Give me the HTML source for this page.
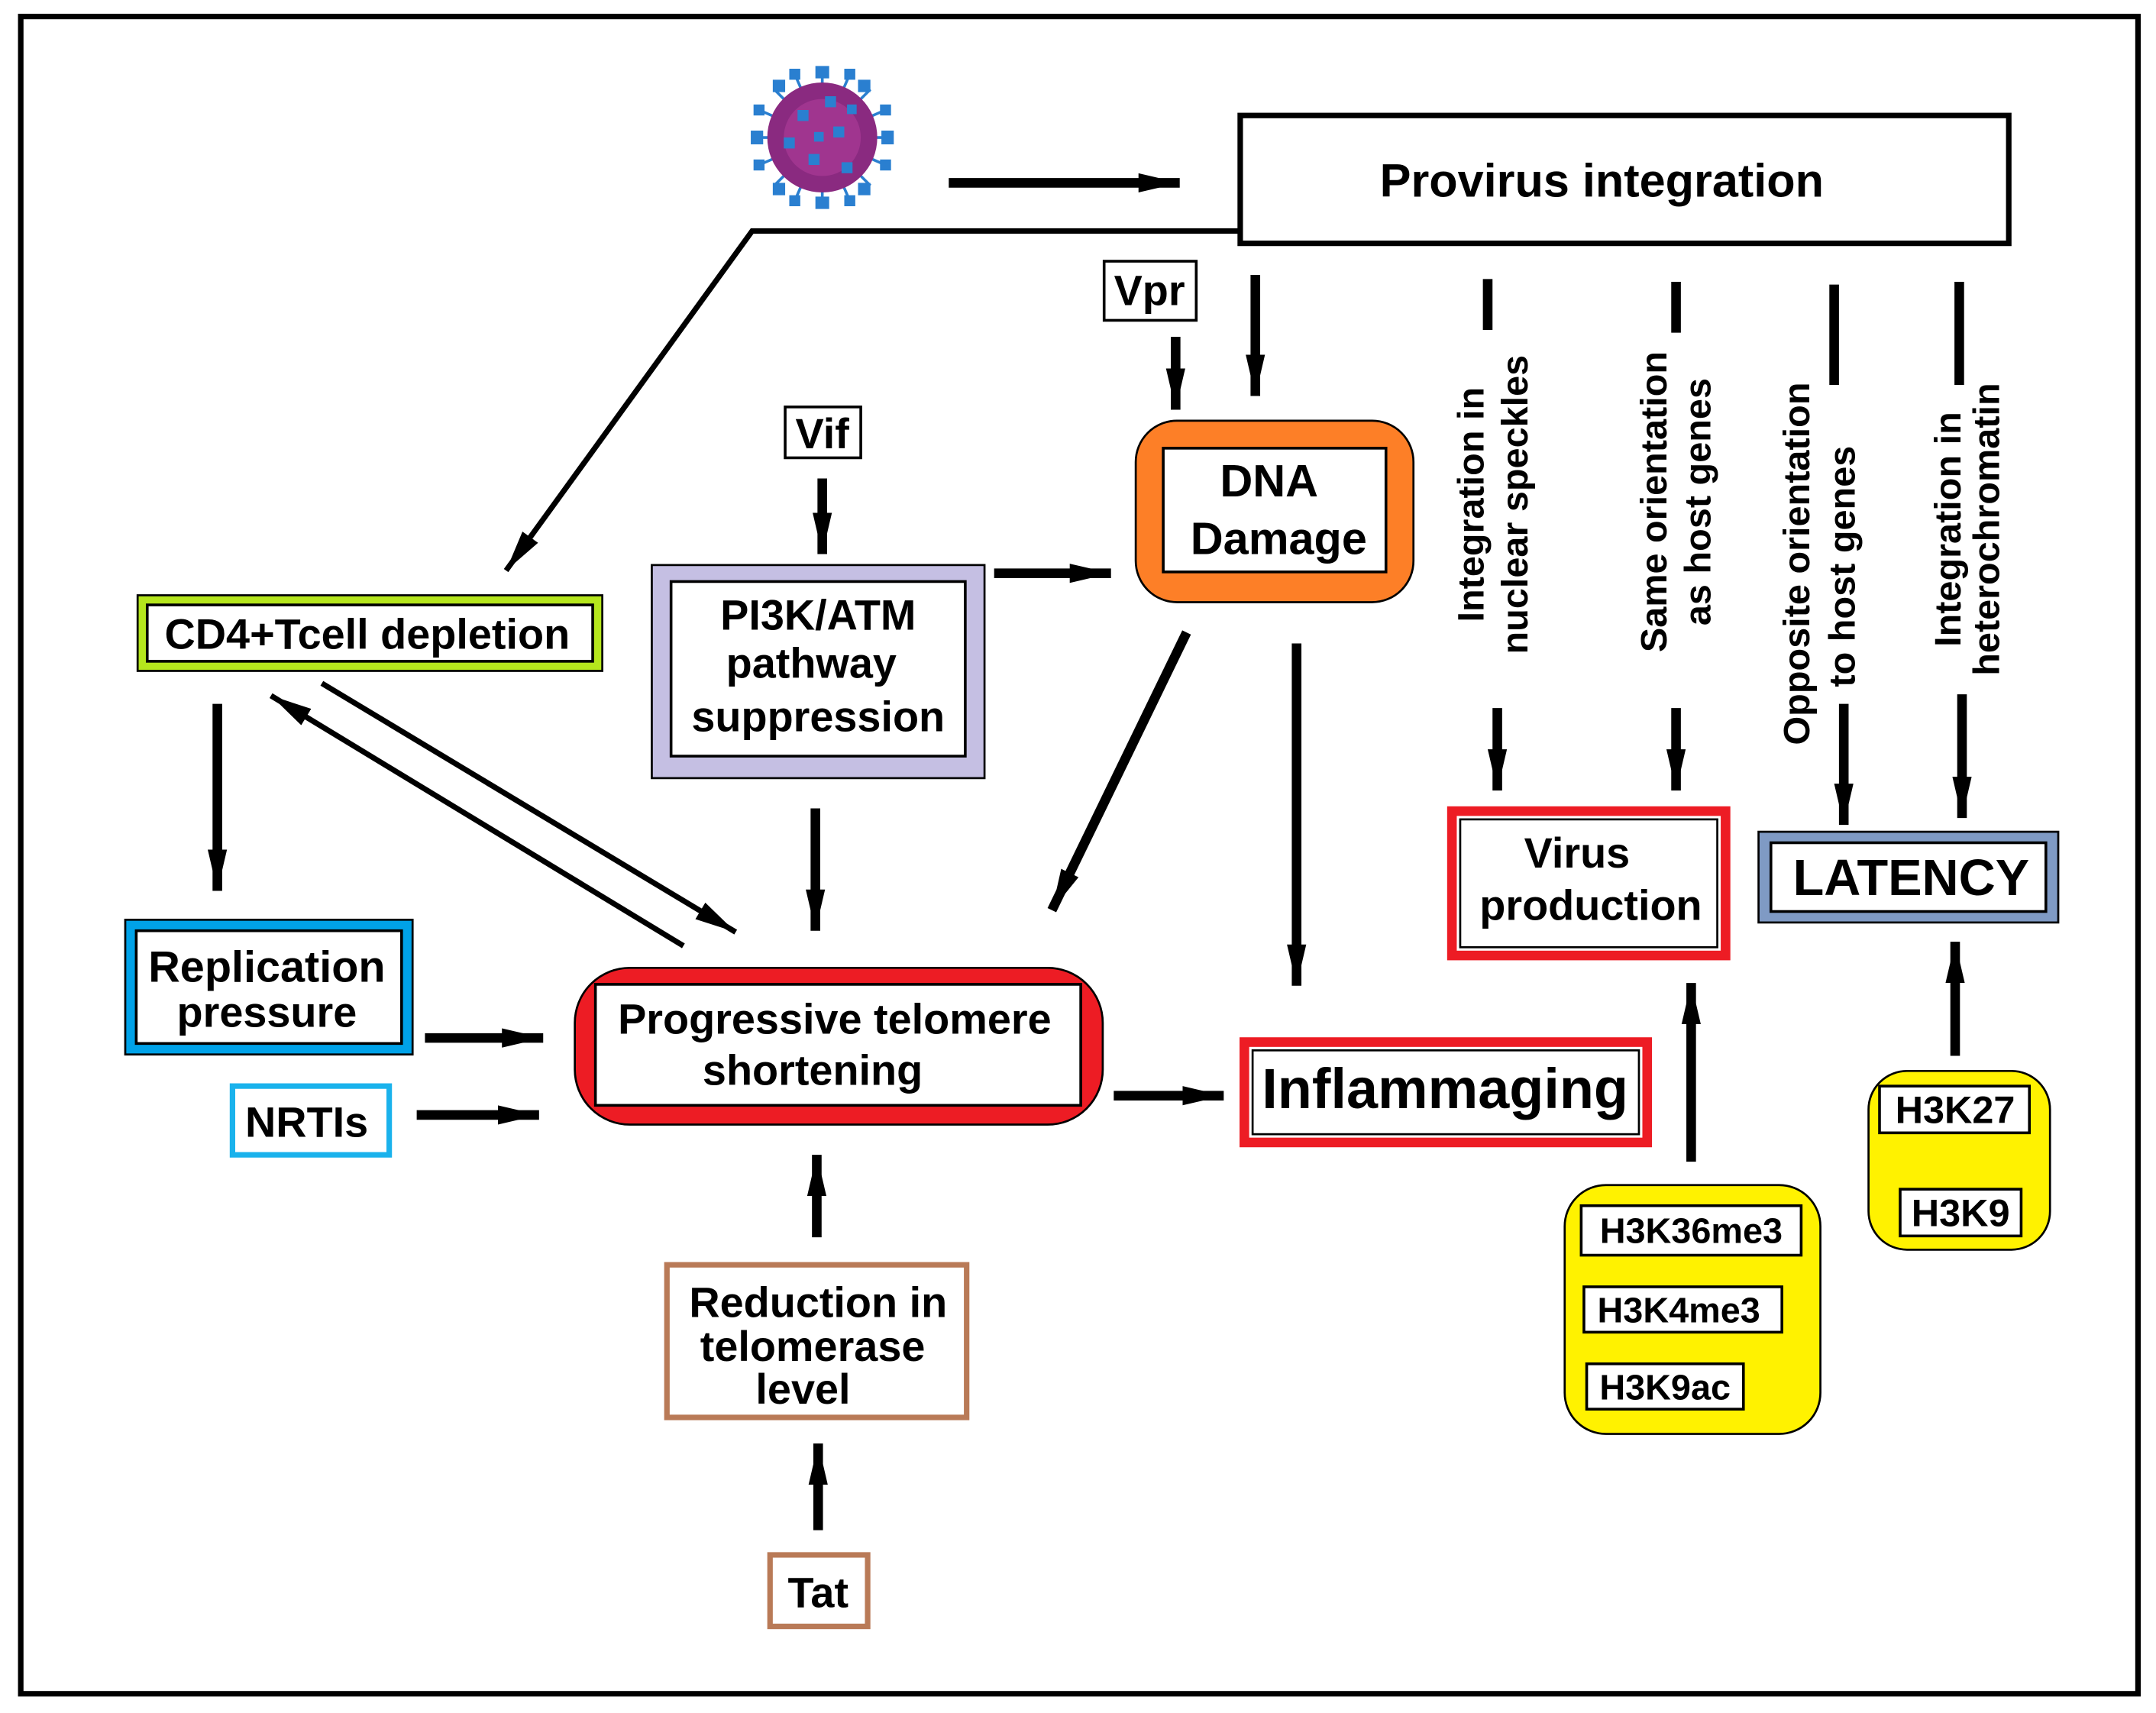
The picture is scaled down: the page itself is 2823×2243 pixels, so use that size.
<!DOCTYPE html>
<html><head><meta charset="utf-8"><style>html,body{margin:0;padding:0;background:#fff}svg{display:block}text{font-family:"Liberation Sans",Arial,sans-serif;font-weight:bold;fill:#000}</style></head>
<body>
<svg width="2823" height="2243" viewBox="0 0 1568 1246" xmlns="http://www.w3.org/2000/svg">
<defs>
<marker id="a" markerUnits="userSpaceOnUse" markerWidth="34" markerHeight="20" viewBox="0 -10 34 20" refX="30" refY="0" orient="auto"><path d="M0,-7 L30,0 L0,7 z" fill="#000"/></marker>
</defs>
<rect x="0" y="0" width="1568" height="1246" fill="#fff"/>
<rect x="15" y="12" width="1540" height="1220" fill="none" stroke="#000" stroke-width="4"/>
<g transform="translate(598,100)">
<g stroke="#2a7fd0" stroke-width="2">
<line x1="0" y1="-50" x2="0" y2="50"/><line x1="-50" y1="0" x2="50" y2="0"/>
<line x1="-35" y1="-35" x2="35" y2="35"/><line x1="35" y1="-35" x2="-35" y2="35"/>
<line x1="-46" y1="-20" x2="46" y2="20"/><line x1="46" y1="-20" x2="-46" y2="20"/>
<line x1="-20" y1="-46" x2="20" y2="46"/><line x1="20" y1="-46" x2="-20" y2="46"/>
</g>
<circle r="40" fill="#8a2a80"/>
<circle r="28" fill="#a0358f"/>
<g fill="#2a7fd0">
<rect x="-5" y="-52" width="10" height="9"/><rect x="-5" y="43" width="10" height="9"/>
<rect x="-52" y="-5" width="9" height="10"/><rect x="43" y="-5" width="9" height="10"/>
<rect x="26" y="-42" width="9" height="9"/><rect x="-36" y="-42" width="9" height="9"/>
<rect x="26" y="33" width="9" height="9"/><rect x="-36" y="33" width="9" height="9"/>
<rect x="-50" y="-24" width="8" height="8"/><rect x="42" y="-24" width="8" height="8"/>
<rect x="-50" y="16" width="8" height="8"/><rect x="42" y="16" width="8" height="8"/>
<rect x="-24" y="-50" width="8" height="8"/><rect x="16" y="-50" width="8" height="8"/>
<rect x="-24" y="42" width="8" height="8"/><rect x="16" y="42" width="8" height="8"/>
<rect x="-18" y="-20" width="8" height="8"/><rect x="8" y="-8" width="8" height="8"/>
<rect x="-10" y="12" width="8" height="8"/><rect x="14" y="18" width="8" height="8"/>
<rect x="-28" y="0" width="8" height="8"/><rect x="2" y="-30" width="8" height="8"/>
<rect x="-6" y="-4" width="7" height="7"/><rect x="18" y="-24" width="7" height="7"/>
</g></g>
<g stroke="#000" stroke-width="7" fill="none" marker-end="url(#a)">
<line x1="690" y1="133" x2="858" y2="133"/>
<line x1="855" y1="245" x2="855" y2="298"/>
<line x1="913" y1="200" x2="913" y2="288"/>
<line x1="1089" y1="515" x2="1089" y2="575"/>
<line x1="1219" y1="515" x2="1219" y2="575"/>
<line x1="1341" y1="512" x2="1341" y2="600"/>
<line x1="1427" y1="505" x2="1427" y2="595"/>
<line x1="598" y1="348" x2="598" y2="403"/>
<line x1="723" y1="417" x2="808" y2="417"/>
<line x1="158" y1="512" x2="158" y2="648"/>
<line x1="309" y1="755" x2="395" y2="755"/>
<line x1="303" y1="811" x2="392" y2="811"/>
<line x1="593" y1="588" x2="593" y2="677"/>
<line x1="863" y1="460" x2="765" y2="662"/>
<line x1="943" y1="468" x2="943" y2="717"/>
<line x1="810" y1="797" x2="890" y2="797"/>
<line x1="1230" y1="845" x2="1230" y2="715"/>
<line x1="1422" y1="768" x2="1422" y2="685"/>
<line x1="594" y1="900" x2="594" y2="840"/>
<line x1="595" y1="1113" x2="595" y2="1050"/>
</g>
<g stroke="#000" stroke-width="4" fill="none" marker-end="url(#a)">
<polyline points="902,168 547,168 368,415"/>
<line x1="234" y1="497" x2="535" y2="678"/>
<line x1="497" y1="688" x2="197" y2="506"/>
</g>
<g stroke="#000" stroke-width="7">
<line x1="1082" y1="203" x2="1082" y2="240"/>
<line x1="1219" y1="205" x2="1219" y2="242"/>
<line x1="1334" y1="207" x2="1334" y2="280"/>
<line x1="1425" y1="205" x2="1425" y2="280"/>
</g>
<rect x="902" y="84" width="559" height="93" fill="#fff" stroke="#000" stroke-width="4"/>
<text x="1165" y="143" font-size="34" text-anchor="middle">Provirus integration</text>
<rect x="803" y="190" width="67" height="43" fill="#fff" stroke="#000" stroke-width="2"/>
<text x="836" y="222" font-size="31" text-anchor="middle">Vpr</text>
<rect x="826" y="306" width="202" height="132" rx="30" fill="#fd7f27" stroke="#000" stroke-width="1.5"/>
<rect x="846" y="326" width="162" height="90" fill="#fff" stroke="#000" stroke-width="2"/>
<text x="923" y="361" font-size="33" text-anchor="middle">DNA</text>
<text x="930" y="403" font-size="33" text-anchor="middle">Damage</text>
<g font-size="27" text-anchor="middle">
<text transform="translate(1079,367) rotate(-90)">Integration in</text>
<text transform="translate(1111,367) rotate(-90)">nuclear speckles</text>
<text transform="translate(1212,365) rotate(-90)">Same orientation</text>
<text transform="translate(1244,365) rotate(-90)">as host genes</text>
<text transform="translate(1316,410) rotate(-90)">Opposite orientation</text>
<text transform="translate(1349,412) rotate(-90)">to host genes</text>
<text transform="translate(1426,385) rotate(-90)">Integration in</text>
<text transform="translate(1454,385) rotate(-90)">heterochromatin</text>
</g>
<rect x="1056" y="590" width="199" height="105" fill="#fff" stroke="#ed1c24" stroke-width="7"/>
<rect x="1062" y="596" width="187" height="93" fill="none" stroke="#000" stroke-width="1.5"/>
<text x="1147" y="631" font-size="31" text-anchor="middle">Virus</text>
<text x="1157" y="669" font-size="31" text-anchor="middle">production</text>
<rect x="1279" y="605" width="218" height="66" fill="#7f9ac4" stroke="#000" stroke-width="1.5"/>
<rect x="1288" y="613" width="200" height="50" fill="#fff" stroke="#000" stroke-width="2"/>
<text x="1390" y="651" font-size="37" text-anchor="middle">LATENCY</text>
<rect x="571" y="296" width="55" height="37" fill="#fff" stroke="#000" stroke-width="2"/>
<text x="598" y="326" font-size="31" text-anchor="middle">Vif</text>
<rect x="474" y="411" width="242" height="155" fill="#c5bfe3" stroke="#000" stroke-width="1.5"/>
<rect x="488" y="423" width="214" height="127" fill="#fff" stroke="#000" stroke-width="2"/>
<text x="595" y="458" font-size="31" text-anchor="middle">PI3K/ATM</text>
<text x="590" y="493" font-size="31" text-anchor="middle">pathway</text>
<text x="595" y="532" font-size="31" text-anchor="middle">suppression</text>
<rect x="100" y="433" width="338" height="55" fill="#b5e61d" stroke="#000" stroke-width="1.5"/>
<rect x="107" y="440" width="324" height="41" fill="#fff" stroke="#000" stroke-width="2"/>
<text x="267" y="472" font-size="31" text-anchor="middle">CD4+Tcell depletion</text>
<rect x="91" y="669" width="209" height="98" fill="#00a2e8" stroke="#000" stroke-width="1.5"/>
<rect x="99" y="677" width="193" height="82" fill="#fff" stroke="#000" stroke-width="2"/>
<text x="194" y="714" font-size="32" text-anchor="middle">Replication</text>
<text x="194" y="747" font-size="31" text-anchor="middle">pressure</text>
<rect x="169" y="790" width="114" height="50" fill="#fff" stroke="#1ab2ec" stroke-width="4"/>
<text x="223" y="827" font-size="31" text-anchor="middle">NRTIs</text>
<rect x="418" y="704" width="384" height="114" rx="40" fill="#ed1c24" stroke="#000" stroke-width="1.5"/>
<rect x="433" y="716" width="353" height="88" fill="#fff" stroke="#000" stroke-width="2"/>
<text x="607" y="752" font-size="31" text-anchor="middle">Progressive telomere</text>
<text x="591" y="789" font-size="31" text-anchor="middle">shortening</text>
<rect x="905" y="758" width="293" height="73" fill="#fff" stroke="#ed1c24" stroke-width="7"/>
<rect x="911" y="764" width="281" height="61" fill="none" stroke="#000" stroke-width="1.5"/>
<text x="1051" y="806" font-size="41" text-anchor="middle">Inflammaging</text>
<rect x="1138" y="862" width="186" height="181" rx="30" fill="#fff200" stroke="#000" stroke-width="1.5"/>
<rect x="1150" y="877" width="160" height="36" fill="#fff" stroke="#000" stroke-width="2"/>
<text x="1230" y="904" font-size="26" text-anchor="middle">H3K36me3</text>
<rect x="1152" y="936" width="144" height="33" fill="#fff" stroke="#000" stroke-width="2"/>
<text x="1221" y="962" font-size="26" text-anchor="middle">H3K4me3</text>
<rect x="1154" y="992" width="114" height="33" fill="#fff" stroke="#000" stroke-width="2"/>
<text x="1211" y="1018" font-size="26" text-anchor="middle">H3K9ac</text>
<rect x="1359" y="779" width="132" height="130" rx="28" fill="#fff200" stroke="#000" stroke-width="1.5"/>
<rect x="1367" y="790" width="109" height="34" fill="#fff" stroke="#000" stroke-width="2"/>
<text x="1422" y="817" font-size="28" text-anchor="middle">H3K27</text>
<rect x="1382" y="865" width="88" height="34" fill="#fff" stroke="#000" stroke-width="2"/>
<text x="1426" y="892" font-size="28" text-anchor="middle">H3K9</text>
<rect x="485" y="920" width="218" height="111" fill="#fff" stroke="#b97a57" stroke-width="4"/>
<text x="595" y="958" font-size="31" text-anchor="middle">Reduction in</text>
<text x="591" y="990" font-size="31" text-anchor="middle">telomerase</text>
<text x="584" y="1021" font-size="31" text-anchor="middle">level</text>
<rect x="560" y="1131" width="71" height="52" fill="#fff" stroke="#b97a57" stroke-width="4"/>
<text x="595" y="1169" font-size="31" text-anchor="middle">Tat</text>
</svg>
</body></html>
